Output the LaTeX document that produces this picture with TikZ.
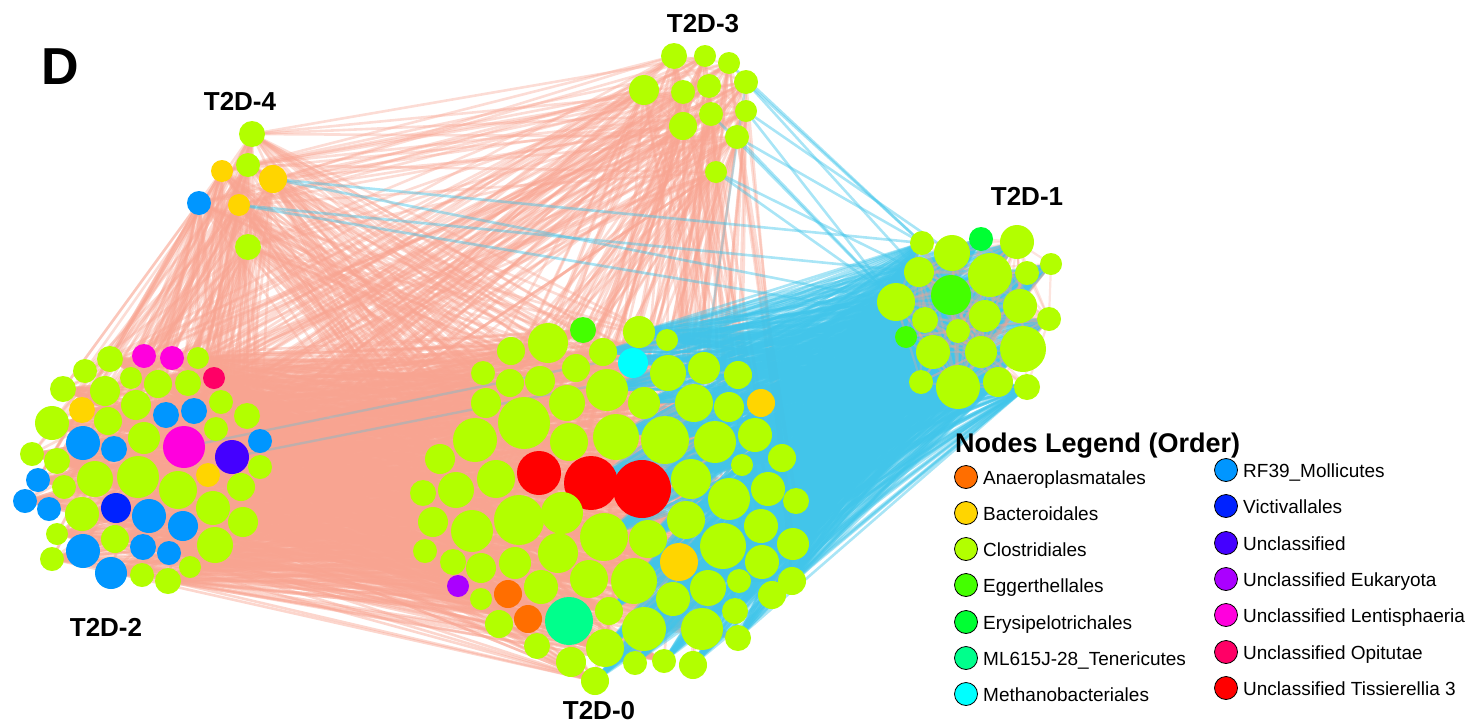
\documentclass[tikz,border=0pt]{standalone}
\usepackage{fontspec}
\setmainfont{Liberation Sans}
\pgfdeclarelayer{edges}
\pgfsetlayers{edges,main}
\definecolor{cl}{HTML}{B2FF00}
\definecolor{ye}{HTML}{FFD500}
\definecolor{rf}{HTML}{0096FF}
\definecolor{vi}{HTML}{0022FF}
\definecolor{un}{HTML}{4400FF}
\definecolor{eu}{HTML}{AA00FF}
\definecolor{le}{HTML}{FF00DD}
\definecolor{op}{HTML}{FF0066}
\definecolor{ti}{HTML}{FF0000}
\definecolor{an}{HTML}{FF6E00}
\definecolor{eg}{HTML}{44FF00}
\definecolor{er}{HTML}{00FF33}
\definecolor{ml}{HTML}{00FF8C}
\definecolor{me}{HTML}{00FFFF}
\definecolor{salm}{RGB}{248,164,145}
\definecolor{bluee}{RGB}{65,197,234}
\begin{document}
\begin{tikzpicture}[x=1pt,y=-1pt,
  nd/.style={circle,inner sep=0pt,draw=none},
  se/.style={draw=salm,line width=2.6pt,draw opacity=0.45},
  st/.style={draw=salm,line width=2.6pt,draw opacity=0.38},
  sei/.style={draw=salm,line width=2.2pt,draw opacity=0.3},
  be/.style={draw=bluee,line width=2.6pt,draw opacity=0.45},
  bl/.style={draw=bluee,line width=2.4pt,draw opacity=0.3},
  lab/.style={font=\fontsize{26}{30}\selectfont\bfseries,inner sep=0pt},
  leg/.style={circle,draw=black,line width=0.8pt,minimum size=23pt,inner sep=0pt},
  legt/.style={anchor=base west,font=\fontsize{19}{22}\selectfont,inner sep=0pt}]
\useasboundingbox (0,0) rectangle (1473,726);
% T2D-0
\foreach \n/\x/\y/\r/\col in {a1/583/330/13/eg,a2/639/332/16/cl,a3/667/340/11/cl,a4/548/343/20/cl,a5/511/351/14/cl,a6/603/352/14/cl,a7/633/363/15/me,a8/576/368/14/cl,a9/668/373/18/cl,a10/704/368/16/cl,a11/738/375/14/cl,a12/483/373/12/cl,a13/510/383/14/cl,a14/540/381/15/cl,a15/607/390/21/cl,a16/761/403/14/ye,a17/486/403/15/cl,a18/567/403/18/cl,a19/644/403/16/cl,a20/694/403/19/cl,a21/729/407/15/cl,a22/524/423/26/cl,a23/475/440/22/cl,a24/569/442/19/cl,a25/616/437/23/cl,a26/665/440/24/cl,a27/715/442/21/cl,a28/755/435/17/cl,a29/440/459/15/cl,a30/539/473/22/ti,a31/591/483/27/ti,a32/642/489/29/ti,a33/782/458/14/cl,a34/742/465/11/cl,a35/496/479/19/cl,a36/456/490/18/cl,a37/423/493/13/cl,a38/691/479/20/cl,a39/768/489/17/cl,a40/729/499/21/cl,a41/796/501/13/cl,a42/519/520/25/cl,a43/562/513/21/cl,a44/472/531/21/cl,a45/433/522/15/cl,a46/686/520/19/cl,a47/761/526/17/cl,a48/604/537/24/cl,a49/648/539/19/cl,a50/723/546/23/cl,a51/793/544/16/cl,a52/425/551/12/cl,a53/453/562/13/cl,a54/481/568/15/cl,a55/515/563/16/cl,a56/558/553/20/cl,a57/679/562/19/ye,a58/762/562/17/cl,a59/458/586/11/eu,a60/481/599/11/cl,a61/508/594/14/an,a62/541/587/17/cl,a63/589/579/19/cl,a64/634/581/23/cl,a65/673/599/17/cl,a66/708/588/18/cl,a67/739/581/12/cl,a68/772/595/14/cl,a69/792/581/14/cl,a70/528/619/14/an,a71/499/624/14/cl,a72/569/621/24/ml,a73/609/611/14/cl,a74/644/629/22/cl,a75/702/629/21/cl,a76/735/611/13/cl,a77/537/646/13/cl,a78/605/648/19/cl,a79/738/638/13/cl,a80/571/662/15/cl,a81/635/663/12/cl,a82/664/661/12/cl,a83/693/665/14/cl,a84/595/681/14/cl}
  \node[nd,fill=\col,minimum size=2*\r pt] (\n) at (\x,\y) {};
% T2D-1
\foreach \n/\x/\y/\r/\col in {b1/922/243/12/cl,b2/981/239/12/er,b3/1017/242/17/cl,b4/952/253/18/cl,b5/1051/264/11/cl,b6/919/272/15/cl,b7/990/275/22/cl,b8/1027/273/12/cl,b9/896/302/19/cl,b10/951/295/20/eg,b11/1020/306/17/cl,b12/1049/319/12/cl,b13/925/320/13/cl,b14/985/316/16/cl,b15/958/331/12/cl,b16/906/337/11/eg,b17/933/352/17/cl,b18/981/352/16/cl,b19/1023/349/23/cl,b20/921/382/12/cl,b21/958/387/22/cl,b22/998/382/15/cl,b23/1027/387/13/cl}
  \node[nd,fill=\col,minimum size=2*\r pt] (\n) at (\x,\y) {};
% T2D-2
\foreach \n/\x/\y/\r/\col in {c1/110/359/13/cl,c2/144/356/12/le,c3/172/358/12/le,c4/198/358/11/cl,c5/85/371/12/cl,c6/131/378/11/cl,c7/158/384/14/cl,c8/188/383/13/cl,c9/214/378/11/op,c10/63/389/13/cl,c11/105/391/15/cl,c12/82/410/13/ye,c13/136/405/15/cl,c14/166/415/13/rf,c15/194/411/13/rf,c16/221/402/12/cl,c17/247/416/13/cl,c18/52/423/17/cl,c19/108/421/14/cl,c20/144/438/16/cl,c21/184/447/21/le,c22/216/429/12/cl,c23/260/441/12/rf,c24/83/443/17/rf,c25/114/449/13/rf,c26/232/457/17/un,c27/32/454/12/cl,c28/57/461/13/cl,c29/208/475/12/ye,c30/260/467/12/cl,c31/38/480/12/rf,c32/64/487/12/cl,c33/95/479/18/cl,c34/138/477/21/cl,c35/178/490/19/cl,c36/241/487/14/cl,c37/25/501/12/rf,c38/49/509/12/rf,c39/82/514/17/cl,c40/116/508/15/vi,c41/149/516/17/rf,c42/213/508/17/cl,c43/243/522/15/cl,c44/183/526/15/rf,c45/57/534/11/cl,c46/115/539/14/cl,c47/83/551/17/rf,c48/143/547/13/rf,c49/169/553/12/rf,c50/215/545/18/cl,c51/52/559/12/cl,c52/111/573/16/rf,c53/142/575/12/cl,c54/168/581/13/cl,c55/190/567/11/cl}
  \node[nd,fill=\col,minimum size=2*\r pt] (\n) at (\x,\y) {};
% T2D-3
\foreach \n/\x/\y/\r in {d1/674/56/13,d2/705/56/11,d3/729/63/11,d4/644/90/15,d5/683/92/12,d6/709/86/12,d7/746/82/12,d8/711/114/12,d9/746/111/11,d10/683/126/14,d11/737/137/12,d12/716/172/11}
  \node[nd,fill=cl,minimum size=2*\r pt] (\n) at (\x,\y) {};
% T2D-4
\foreach \n/\x/\y/\r/\col in {e1/252/134/13/cl,e2/222/171/11/ye,e3/248/165/12/cl,e4/273/179/14/ye,e5/199/203/12/rf,e6/239/205/11/ye,e7/248/247/13/cl}
  \node[nd,fill=\col,minimum size=2*\r pt] (\n) at (\x,\y) {};

\begin{pgfonlayer}{edges}
% T2D-2 -- T2D-0
\foreach \i in {1,...,55}{\foreach \j in {1,...,84}{%
  \pgfmathtruncatemacro\k{mod(\i*13+\j*7+\i*\j,3)}%
  \ifnum\k=0 \draw[se] (c\i.center) -- (a\j.center);\fi}}
% T2D-4 -- T2D-2
\foreach \i in {1,...,7}{\foreach \j in {1,...,55}{%
  \pgfmathtruncatemacro\k{mod(\i+\j,3)}%
  \ifnum\k=0 \draw[st] (e\i.center) -- (c\j.center);\fi}}
% T2D-4 -- T2D-0
\foreach \i in {1,...,7}{\foreach \j in {1,...,84}{%
  \pgfmathtruncatemacro\k{mod(\i*3+\j,6)}%
  \ifnum\k=0 \draw[st] (e\i.center) -- (a\j.center);\fi}}
% T2D-3 -- T2D-2
\foreach \i in {1,...,12}{\foreach \j in {1,...,55}{%
  \pgfmathtruncatemacro\k{mod(\i+\j*3,8)}%
  \ifnum\k=0 \draw[st] (d\i.center) -- (c\j.center);\fi}}
% T2D-3 -- T2D-0
\foreach \i in {1,...,12}{\foreach \j in {1,...,84}{%
  \pgfmathtruncatemacro\k{mod(\i*5+\j,8)}%
  \ifnum\k=0 \draw[st] (d\i.center) -- (a\j.center);\fi}}
% T2D-3 -- T2D-4
\foreach \i in {1,...,12}{\foreach \j in {1,...,7}{%
  \pgfmathtruncatemacro\k{mod(\i+\j,3)}%
  \ifnum\k=0 \draw[st] (d\i.center) -- (e\j.center);\fi}}
% inside T2D-3
\foreach \i in {1,...,11}{\pgfmathtruncatemacro\s{\i+1}\foreach \j in {\s,...,12}{%
  \pgfmathtruncatemacro\k{mod(\i+\j,2)}%
  \ifnum\k=0 \draw[sei] (d\i.center) -- (d\j.center);\fi}}
% T2D-0 -- T2D-1
\foreach \j in {2,3,6,7,9,10,11,15,16,19,20,21,25,26,27,28,31,32,33,34,38,39,40,41,46,47,48,49,50,51,57,58,64,65,66,67,68,69,73,74,75,76,78,79,81,82,83,84}{%
  \foreach \i in {1,...,23}{\draw[be] (a\j.center) -- (b\i.center);}}
% inside T2D-1
\foreach \i in {1,...,22}{\pgfmathtruncatemacro\s{\i+1}\foreach \j in {\s,...,23}{%
  \pgfmathtruncatemacro\k{mod(\i*\j,3)}%
  \ifnum\k=0 \draw[sei] (b\i.center) -- (b\j.center);\fi}}
% blue long edges
\foreach \u/\v in {d3/b1,d7/b1,d7/b6,d9/b9,d9/b4,d11/b1,d11/b9,d12/b6,d12/b13,d8/b9,e4/b1,e6/b6,e4/b9,e6/b13}
  \draw[be] (\u.center) -- (\v.center);
\foreach \u/\v in {c21/b9,c26/b13,d7/a10}
  \draw[bl] (\u.center) -- (\v.center);
\end{pgfonlayer}

% labels
\node[font=\fontsize{52}{56}\selectfont\bfseries,inner sep=0pt] (lD) at (60,67) {D};
\node[lab] (l3) at (703,24) {T2D-3};
\node[lab] (l4) at (240,101) {T2D-4};
\node[lab] (l1) at (1027,196) {T2D-1};
\node[lab] (l2) at (106,627) {T2D-2};
\node[lab] (l0) at (599,711) {T2D-0};
% legend
\node[anchor=base west,font=\fontsize{27}{30}\selectfont\bfseries,inner sep=0pt] (lt) at (955,452) {Nodes Legend (Order)};
\foreach \n/\y/\col/\t in {g1/477/an/Anaeroplasmatales,g2/513/ye/Bacteroidales,g3/549/cl/Clostridiales,g4/585/eg/Eggerthellales,g5/622/er/Erysipelotrichales,g6/658/ml/ML615J-28\_Tenericutes,g7/694/me/Methanobacteriales}{
  \node[leg,fill=\col] (\n) at (966,\y) {};
  \node[legt] (\n t) at (983,\y+7) {\t};}
\foreach \n/\y/\col/\t in {h1/470/rf/RF39\_Mollicutes,h2/506/vi/Victivallales,h3/543/un/Unclassified,h4/579/eu/Unclassified Eukaryota,h5/615/le/Unclassified Lentisphaeria,h6/652/op/Unclassified Opitutae,h7/688/ti/Unclassified Tissierellia 3}{
  \node[leg,fill=\col] (\n) at (1226,\y) {};
  \node[legt] (\n t) at (1243,\y+7) {\t};}
\end{tikzpicture}
\end{document}
